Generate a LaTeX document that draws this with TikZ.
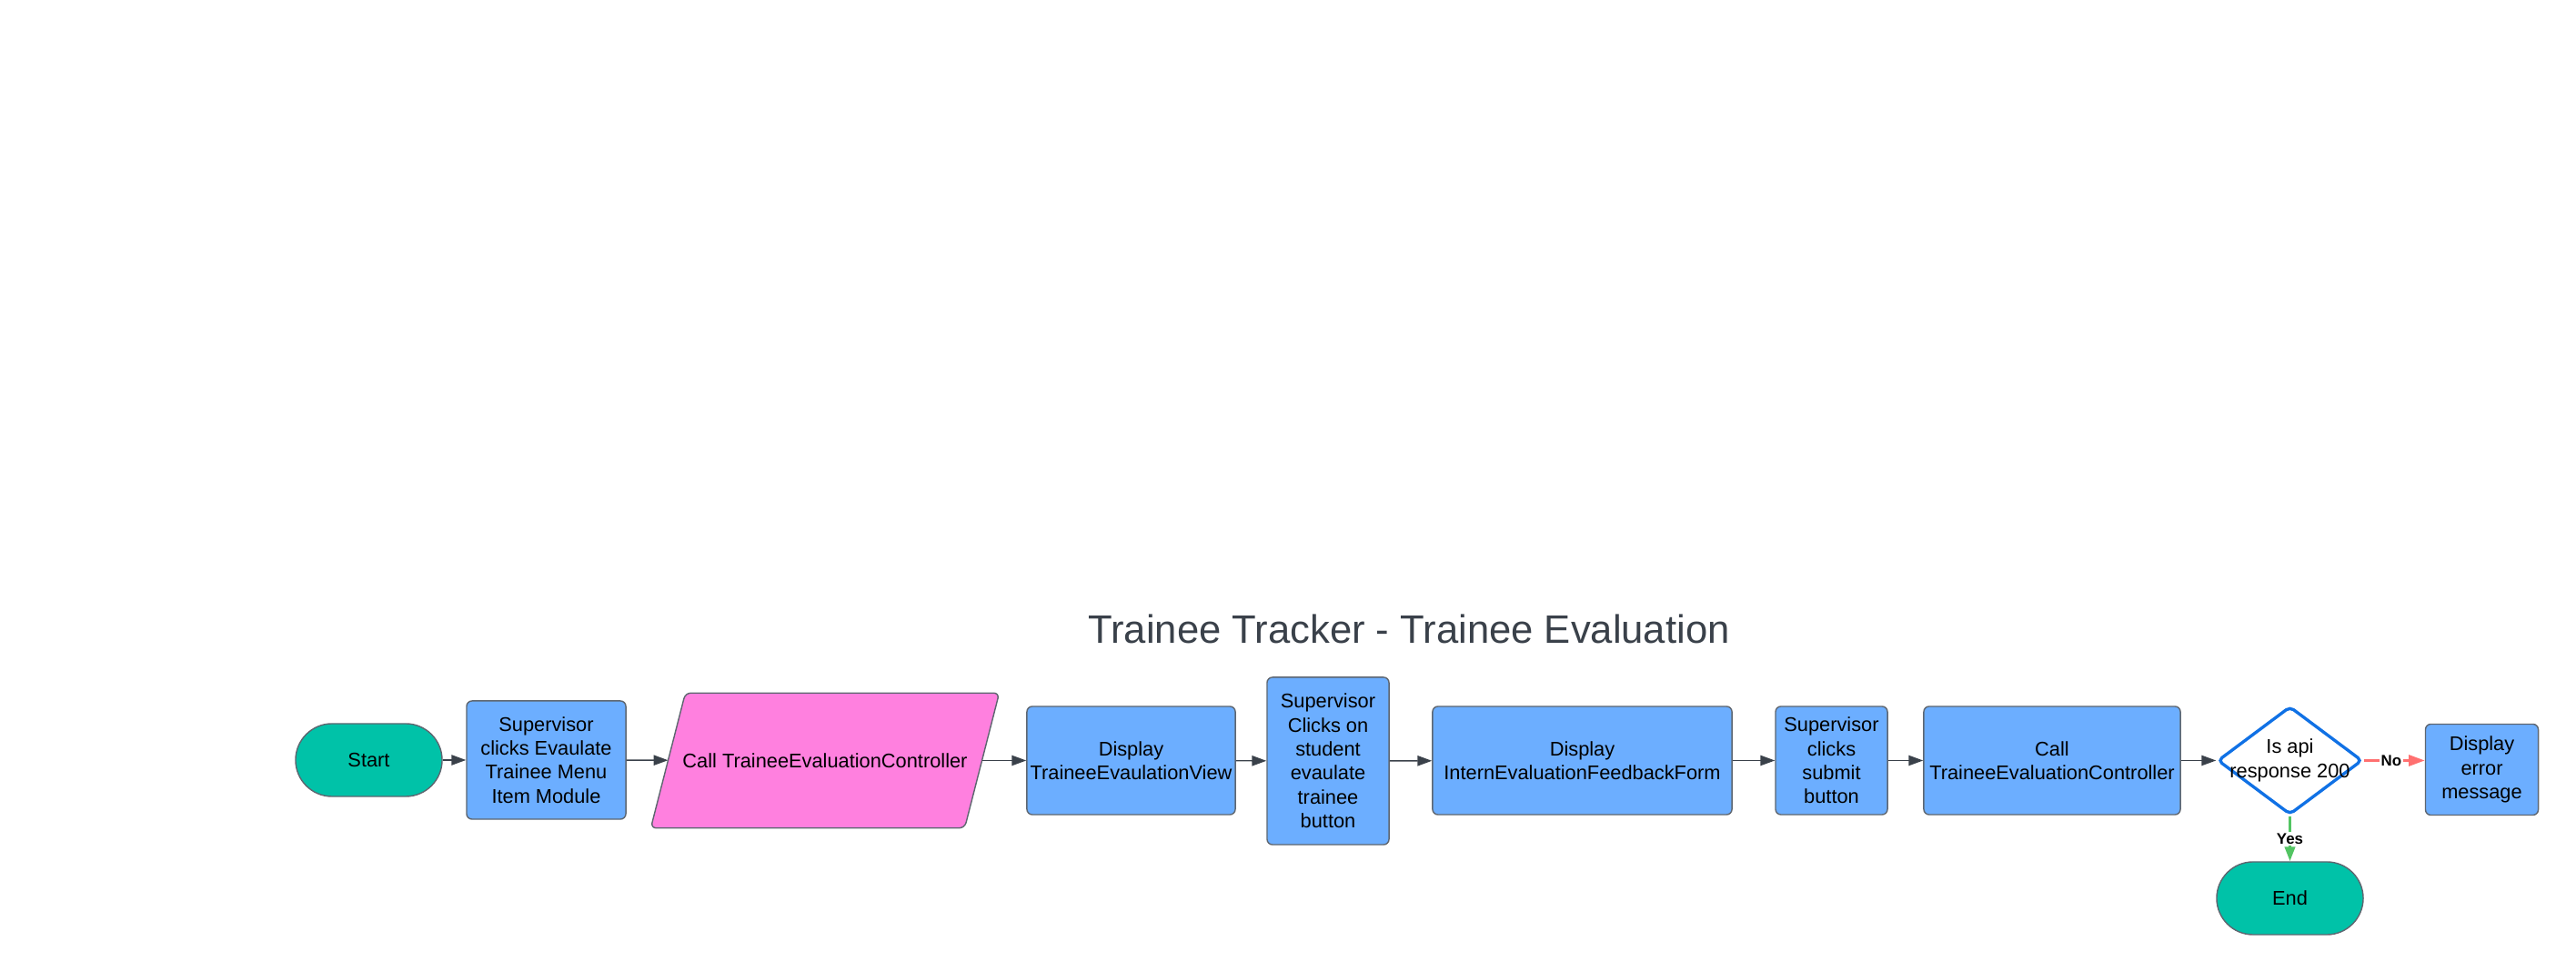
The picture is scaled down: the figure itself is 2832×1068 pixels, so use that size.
\documentclass[tikz,border=0pt]{standalone}
\usepackage{fontspec}
\setmainfont{Liberation Sans}
\usetikzlibrary{shapes.geometric,arrows.meta,backgrounds,calc}
\definecolor{boxblue}{HTML}{6CAEFF}
\definecolor{termteal}{HTML}{00C2A8}
\definecolor{iopink}{HTML}{FF80DF}
\definecolor{edgegray}{HTML}{5E6670}
\definecolor{arrowgray}{HTML}{3A414A}
\definecolor{decblue}{HTML}{1071E5}
\definecolor{yesgreen}{HTML}{52C462}
\definecolor{nored}{HTML}{FF7070}
\providecommand{\boxfontsize}{\fontsize{6.2}{7.5}\selectfont}
\providecommand{\titlefontsize}{\fontsize{12.4}{15}\selectfont}
\providecommand{\labelfontsize}{\fontsize{4.8}{6}\selectfont\bfseries}
\tikzset{
  procbox/.style={draw=edgegray,line width=0.4pt,fill=boxblue,rounded corners=0.06cm,align=center,inner sep=0,font=\boxfontsize},
  termbox/.style={draw=edgegray,line width=0.4pt,fill=termteal,rounded corners=0.4cm,minimum width=1.61cm,minimum height=0.8cm,inner sep=0,font=\boxfontsize},
  iobox/.style={minimum width=3.435cm,minimum height=1.47cm,inner sep=0,font=\boxfontsize},
  ioshape/.style={draw=edgegray,line width=0.4pt,fill=iopink,rounded corners=0.06cm},
  decbox/.style={diamond,draw=decblue,line width=0.95pt,fill=white,rounded corners=0.05cm,minimum width=1.59cm,minimum height=1.19cm,inner sep=0},
  flowarrow/.style={draw=arrowgray,line width=0.4pt,-{Triangle[length=4.5pt,width=3.2pt]}},
  yesarrow/.style={draw=yesgreen,line width=0.85pt,-{Triangle[length=4.5pt,width=3.2pt]}},
  noarrow/.style={draw=nored,line width=0.85pt,-{Triangle[length=5pt,width=3.4pt]}},
  edgelabel/.style={fill=white,inner sep=0.5pt,font=\labelfontsize}
}
\begin{document}
\begin{tikzpicture}[x=0.01cm,y=-0.01cm]
    \pgfmathsetmacro{\ioslant}{19}
    \useasboundingbox (0,0) rectangle (2832,1068);
    \node[text=arrowgray,font=\titlefontsize] (title) at (1549,692) {Trainee Tracker - Trainee Evaluation};
    % main row
    \node[termbox] (start) at (405.5,836) {Start};
    \node[procbox,minimum width=1.75cm,minimum height=1.30cm] (supmenu) at (600.5,836) {Supervisor\\clicks Evaulate\\Trainee Menu\\Item Module};
    \node[iobox] (callctrl) at (907,836.5) {Call TraineeEvaluationController};
    \begin{scope}[on background layer]
        \draw[ioshape] ($(callctrl.north west)+(\ioslant,0)$) -- ($(callctrl.north east)+(\ioslant,0)$)
            -- ($(callctrl.south east)-(\ioslant,0)$) -- ($(callctrl.south west)-(\ioslant,0)$) -- cycle;
    \end{scope}
    \node[procbox,minimum width=2.29cm,minimum height=1.19cm] (evalview) at (1243.5,836.5) {Display\\TraineeEvaulationView};
    \node[procbox,minimum width=1.34cm,minimum height=1.84cm] (supclick) at (1460,837) {Supervisor\\Clicks on\\student\\evaulate\\trainee\\button};
    \node[procbox,minimum width=3.29cm,minimum height=1.19cm] (feedform) at (1739.5,836.5) {Display\\InternEvaluationFeedbackForm};
    \node[procbox,minimum width=1.23cm,minimum height=1.19cm] (supsubmit) at (2013.5,836.5) {Supervisor\\clicks\\submit\\button};
    \node[procbox,minimum width=2.82cm,minimum height=1.19cm] (callctrltwo) at (2256,836.5) {Call\\TraineeEvaluationController};
    \node[decbox,label={[align=center,font=\boxfontsize]center:Is api\\response 200}] (apicheck) at (2517.5,836.5) {};
    \node[procbox,minimum width=1.24cm,minimum height=1.00cm] (errmsg) at (2728.5,846.5) {Display\\error\\message};
    \node[termbox] (stop) at (2517.5,988) {End};
    % connectors
    \draw[flowarrow] (start) -- (supmenu);
    \draw[flowarrow] (supmenu) -- (callctrl);
    \draw[flowarrow] (callctrl) -- (evalview);
    \draw[flowarrow] (evalview) -- (supclick);
    \draw[flowarrow] (supclick) -- (feedform);
    \draw[flowarrow] (feedform) -- (supsubmit);
    \draw[flowarrow] (supsubmit) -- (callctrltwo);
    \draw[flowarrow] (callctrltwo) -- (apicheck);
    \draw[noarrow] (apicheck.east) -- node[edgelabel,pos=0.45] {No} (apicheck.east -| errmsg.west);
    \draw[yesarrow] (apicheck.south) -- node[edgelabel] {Yes} (stop.north);
\end{tikzpicture}
\end{document}
